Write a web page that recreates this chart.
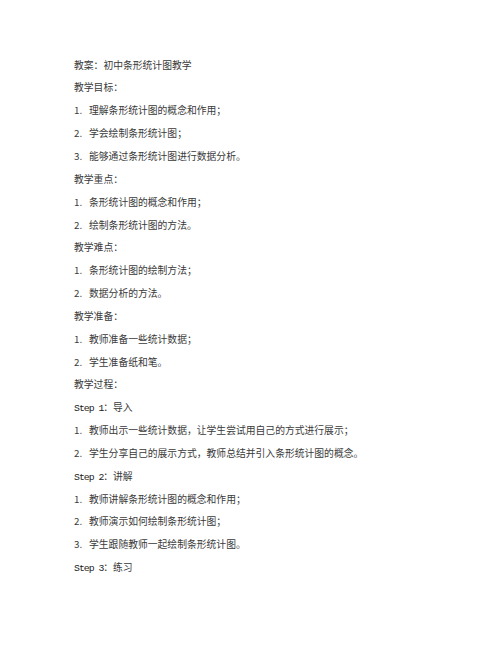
<!DOCTYPE html>
<html>
<head>
<meta charset="utf-8">
<script src="https://cdn.jsdelivr.net/npm/chart.js"></script>
<style>
  html, body { margin: 0; padding: 0; background: #fff; }
  body { width: 502px; height: 649px; overflow: hidden; position: relative; }
  #page {
    position: absolute; left: 74px; top: 53.6px;
    font-family: "Noto Sans CJK SC", sans-serif;
    font-size: 9.8px; color: #3a3a3a;
    white-space: nowrap;
  }
  #page div { height: 22.85px; line-height: 22.85px; overflow: visible; }
  .num { display: inline-block; width: 15px; }
  .step { font-family: "Liberation Mono", monospace; letter-spacing: -1px; color: #1a1a1a; line-height: 1; }
</style>
</head>
<body>
<div id="page"></div>
<script>
// 文本内容
const title = '教案：初中条形统计图教学';
const goals = ['理解条形统计图的概念和作用；', '学会绘制条形统计图；', '能够通过条形统计图进行数据分析。'];
const keyPoints = ['条形统计图的概念和作用；', '绘制条形统计图的方法。'];
const difficulties = ['条形统计图的绘制方法；', '数据分析的方法。'];
const preparation = ['教师准备一些统计数据；', '学生准备纸和笔。'];
const step1 = ['教师出示一些统计数据，让学生尝试用自己的方式进行展示；', '学生分享自己的展示方式，教师总结并引入条形统计图的概念。'];
const step2 = ['教师讲解条形统计图的概念和作用；', '教师演示如何绘制条形统计图；', '学生跟随教师一起绘制条形统计图。'];

const page = document.getElementById('page');

function line(html) {
  const d = document.createElement('div');
  d.innerHTML = html;
  page.appendChild(d);
}
function list(items) {
  items.forEach((t, i) => line('<span class="num">' + (i + 1) + '.</span>' + t));
}
function step(n, name) {
  line('<span class="step">Step ' + n + '</span>：' + name);
}

line(title);
line('教学目标：'); list(goals);
line('教学重点：'); list(keyPoints);
line('教学难点：'); list(difficulties);
line('教学准备：'); list(preparation);
line('教学过程：');
step(1, '导入'); list(step1);
step(2, '讲解'); list(step2);
step(3, '练习');
</script>
</body>
</html>
